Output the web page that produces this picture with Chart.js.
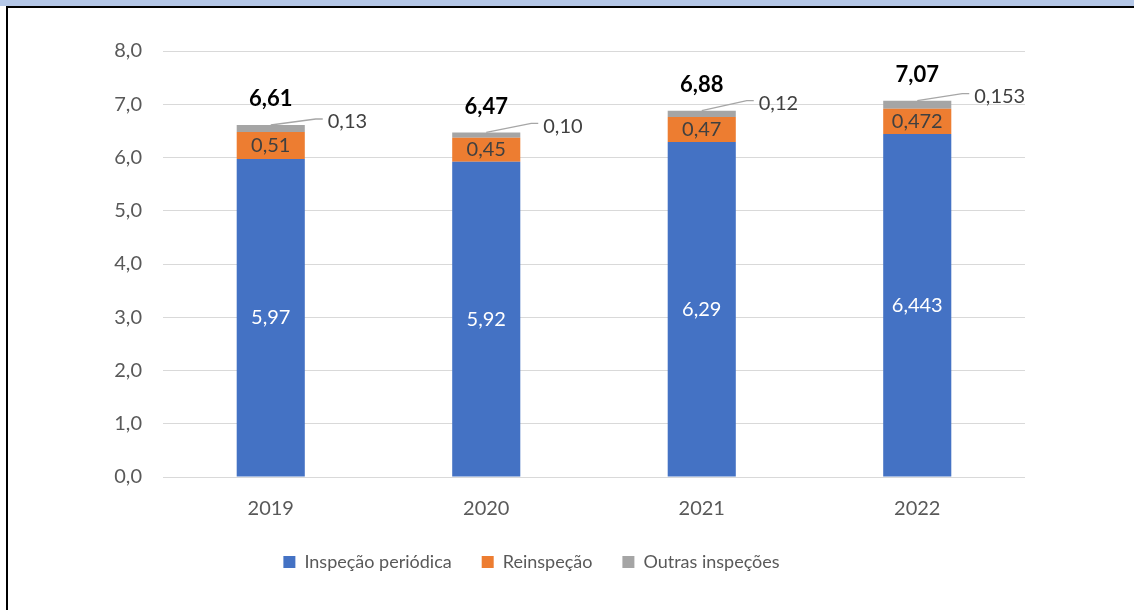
<!DOCTYPE html>
<html>
<head>
<meta charset="utf-8">
<script src="https://cdn.jsdelivr.net/npm/chart.js@4.4.1/dist/chart.umd.min.js"></script>
<style>
html, body { margin: 0; padding: 0; background: #fff; }
#wrap { position: relative; width: 1134px; height: 610px; overflow: hidden; }
#band { position: absolute; left: 0; top: 0; width: 1134px; height: 6px; background: #B4C7E7; }
#topline { position: absolute; left: 6px; top: 6px; width: 1128px; height: 2px; background: #000; }
#leftline { position: absolute; left: 6px; top: 6px; width: 2px; height: 604px; background: #000; }
canvas { position: absolute; left: 0; top: 0; }
</style>
</head>
<body>
<div id="wrap">
  <canvas id="chart" width="1134" height="610"></canvas>
  <div id="band"></div>
  <div id="topline"></div>
  <div id="leftline"></div>
</div>
<script>
const years = ['2019', '2020', '2021', '2022'];
const periodica = [5.97, 5.92, 6.29, 6.443];
const reinspecao = [0.51, 0.45, 0.47, 0.472];
const outras = [0.13, 0.10, 0.12, 0.153];
const totais = [6.61, 6.47, 6.88, 7.07];
const casasDecimais = [2, 2, 2, 3];
const yTicks = [0, 1, 2, 3, 4, 5, 6, 7, 8];

// vertical offset of the "Outras" callout, per bar
const calloutDy = [-6, -9, -10, -7];

const FONT = 'Lato, "Open Sans", sans-serif';

function fmt(v, d) {
    return v.toFixed(d).replace('.', ',');
}

const labelPlugin = {
    id: 'barLabels',
    afterDatasetsDraw(chart) {
        const ctx = chart.ctx;
        const mB = chart.getDatasetMeta(0);
        const mO = chart.getDatasetMeta(1);
        const mG = chart.getDatasetMeta(2);
        ctx.save();
        ctx.textBaseline = 'middle';
        years.forEach((yr, i) => {
            const b = mB.data[i], o = mO.data[i], g = mG.data[i];
            ctx.font = '20px ' + FONT;
            ctx.textAlign = 'center';
            ctx.fillStyle = '#ffffff';
            ctx.fillText(fmt(periodica[i], casasDecimais[i]), b.x, (b.y + b.base) / 2);
            ctx.fillStyle = '#404040';
            ctx.fillText(fmt(reinspecao[i], casasDecimais[i]), o.x, (o.y + o.base) / 2);

            // callout line for the small grey segment
            const ly = g.y + calloutDy[i];
            ctx.strokeStyle = '#A6A6A6';
            ctx.lineWidth = 1.3;
            ctx.beginPath();
            ctx.moveTo(g.x, g.y);
            ctx.lineTo(g.x + 45, ly);
            ctx.lineTo(g.x + 52, ly);
            ctx.stroke();
            ctx.textAlign = 'left';
            ctx.fillText(fmt(outras[i], casasDecimais[i]), g.x + 57, ly + 3);

            // total
            ctx.textAlign = 'center';
            ctx.font = 'bold 22px ' + FONT;
            ctx.fillStyle = '#000000';
            ctx.fillText(fmt(totais[i], 2), g.x, g.y - 26);
        });
        ctx.restore();
    }
};

new Chart(document.getElementById('chart'), {
    type: 'bar',
    data: {
        labels: years,
        datasets: [
            { label: 'Inspeção periódica', data: periodica, backgroundColor: '#4472C4' },
            { label: 'Reinspeção', data: reinspecao, backgroundColor: '#ED7D31' },
            { label: 'Outras inspeções', data: outras, backgroundColor: '#A5A5A5' }
        ]
    },
    options: {
        responsive: false,
        animation: false,
        layout: { padding: { left: 38, right: 109, top: 51, bottom: 29 } },
        datasets: { bar: { categoryPercentage: 1, barPercentage: 0.316 } },
        plugins: {
            legend: {
                position: 'bottom',
                labels: {
                    boxWidth: 12,
                    boxHeight: 12,
                    padding: 30,
                    color: '#595959',
                    font: { family: FONT, size: 18 }
                }
            },
            tooltip: { enabled: false }
        },
        scales: {
            x: {
                stacked: true,
                grid: { display: false, drawTicks: false },
                border: { display: false },
                ticks: { color: '#595959', padding: 20, font: { family: FONT, size: 20 } },
                afterFit: (s) => { s.height = 46; }
            },
            y: {
                stacked: true,
                min: yTicks[0],
                max: yTicks[yTicks.length - 1],
                afterBuildTicks: (s) => { s.ticks = yTicks.map(v => ({ value: v })); },
                grid: { color: '#D9D9D9', lineWidth: 1, drawTicks: false },
                border: { display: false },
                ticks: {
                    color: '#595959',
                    padding: 21,
                    font: { family: FONT, size: 20 },
                    callback: (v) => fmt(v, 1)
                },
                afterFit: (s) => { s.width = 125; }
            }
        }
    },
    plugins: [labelPlugin]
});
</script>
</body>
</html>
